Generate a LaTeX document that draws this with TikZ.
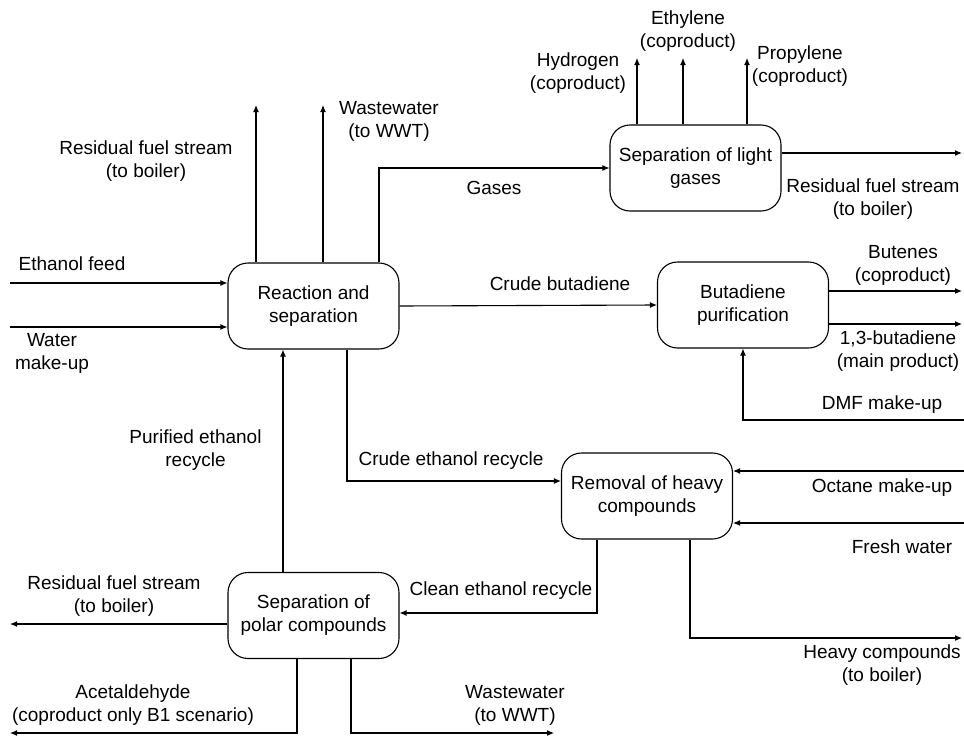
\documentclass[tikz,border=0pt]{standalone}
\usepackage{fontspec}
\setmainfont{Liberation Sans}
\usetikzlibrary{arrows.meta}

\begin{document}
\begin{tikzpicture}[x=1pt,y=-1pt,line width=1.1pt,
  >={Latex[length=7pt,width=6pt]},
  unit/.style={draw,rounded corners=20pt,minimum width=171pt,minimum height=86pt,align=center,inner sep=2pt},
  lbl/.style={align=center}]
\fontsize{19}{23}\selectfont
\useasboundingbox (0,0) rectangle (964,736) ;
\node[unit] (rxn) at (313.5,306) {Reaction and\\separation} ;
\node[unit] (light) at (695.5,168) {Separation of light\\gases} ;
\node[unit] (purif) at (743,305) {Butadiene\\purification} ;
\node[unit] (heavy) at (647,496) {Removal of heavy\\compounds} ;
\node[unit] (polar) at (313.5,615.5) {Separation of\\polar compounds} ;
\coordinate (feed) at (10,283) ;
\coordinate (water) at (10,327) ;
\coordinate (fuelA) at (256,105) ;
\coordinate (wwA) at (323,105) ;
\coordinate (gasx) at (379,167) ;
\coordinate (h2) at (637,58) ;
\coordinate (c2) at (683,58) ;
\coordinate (c3) at (747,58) ;
\coordinate (fuelB) at (962,153) ;
\coordinate (butenes) at (962,291) ;
\coordinate (bd) at (962,324) ;
\coordinate (dmf) at (964,420) ;
\coordinate (pur) at (283,450) ;
\coordinate (crude) at (347,481) ;
\coordinate (octane) at (964,471) ;
\coordinate (fresh) at (964,523) ;
\coordinate (clean) at (597,613) ;
\coordinate (hv) at (690,638) ;
\coordinate (hvout) at (962,638) ;
\coordinate (fuelC) at (10,624) ;
\coordinate (acx) at (297,733) ;
\coordinate (acet) at (10,733) ;
\coordinate (wwx) at (351,733) ;
\coordinate (wwB) at (554,733) ;
\draw[->] (feed) -- (rxn.west |- feed) ;
\draw[->] (water) -- (rxn.west |- water) ;
\draw[->] (rxn.north -| fuelA) -- (fuelA) ;
\draw[->] (rxn.north -| wwA) -- (wwA) ;
\draw[->] (rxn.north -| gasx) |- (light.west) ;
\draw[->] (rxn.east) -- (purif.west) ;
\draw[->] (light.north -| h2) -- (h2) ;
\draw[->] (light.north -| c2) -- (c2) ;
\draw[->] (light.north -| c3) -- (c3) ;
\draw[->] (light.east |- fuelB) -- (fuelB) ;
\draw[->] (purif.east |- butenes) -- (butenes) ;
\draw[->] (purif.east |- bd) -- (bd) ;
\draw[->] (dmf) -| (purif.south) ;
\draw[->] (polar.north -| pur) -- (rxn.south -| pur) ;
\draw[->] (rxn.south -| crude) |- (heavy.west |- crude) ;
\draw[->] (octane) -- (heavy.east |- octane) ;
\draw[->] (fresh) -- (heavy.east |- fresh) ;
\draw[->] (heavy.south -| clean) |- (polar.east |- clean) ;
\draw[->] (heavy.south -| hv) |- (hvout) ;
\draw[->] (polar.west |- fuelC) -- (fuelC) ;
\draw[->] (polar.south -| acx) |- (acet) ;
\draw[->] (polar.south -| wwx) |- (wwB) ;
\node[lbl] (lfeed) at (72,264) {Ethanol feed} ;
\node[lbl] (lwater) at (52,353) {Water\\make-up} ;
\node[lbl] (lfuelA) at (146,161.5) {Residual fuel stream\\(to boiler)} ;
\node[lbl] (lwwA) at (389,121.5) {Wastewater\\(to WWT)} ;
\node[lbl] (lgas) at (494,188) {Gases} ;
\node[lbl] (lcrudebd) at (560,284) {Crude butadiene} ;
\node[lbl] (lh2) at (578,73.5) {Hydrogen\\(coproduct)} ;
\node[lbl] (lc2) at (688,31.5) {Ethylene\\(coproduct)} ;
\node[lbl] (lc3) at (800,66.5) {Propylene\\(coproduct)} ;
\node[lbl] (lfuelB) at (873,199) {Residual fuel stream\\(to boiler)} ;
\node[lbl] (lbutenes) at (903,265) {Butenes\\(coproduct)} ;
\node[lbl] (lbd) at (898,351.5) {1,3-butadiene\\(main product)} ;
\node[lbl] (ldmf) at (882,405) {DMF make-up} ;
\node[lbl] (lpur) at (195.5,450) {Purified ethanol\\recycle} ;
\node[lbl] (lcrude) at (451,461) {Crude ethanol recycle} ;
\node[lbl] (loctane) at (882,488) {Octane make-up} ;
\node[lbl] (lfresh) at (902,547) {Fresh water} ;
\node[lbl] (lclean) at (501,591) {Clean ethanol recycle} ;
\node[lbl] (lhv) at (882,665.5) {Heavy compounds\\(to boiler)} ;
\node[lbl] (lfuelC) at (114,596) {Residual fuel stream\\(to boiler)} ;
\node[lbl] (lacet) at (133,705) {Acetaldehyde\\(coproduct only B1 scenario)} ;
\node[lbl] (lwwB) at (515,705) {Wastewater\\(to WWT)} ;
\end{tikzpicture}
\end{document}
